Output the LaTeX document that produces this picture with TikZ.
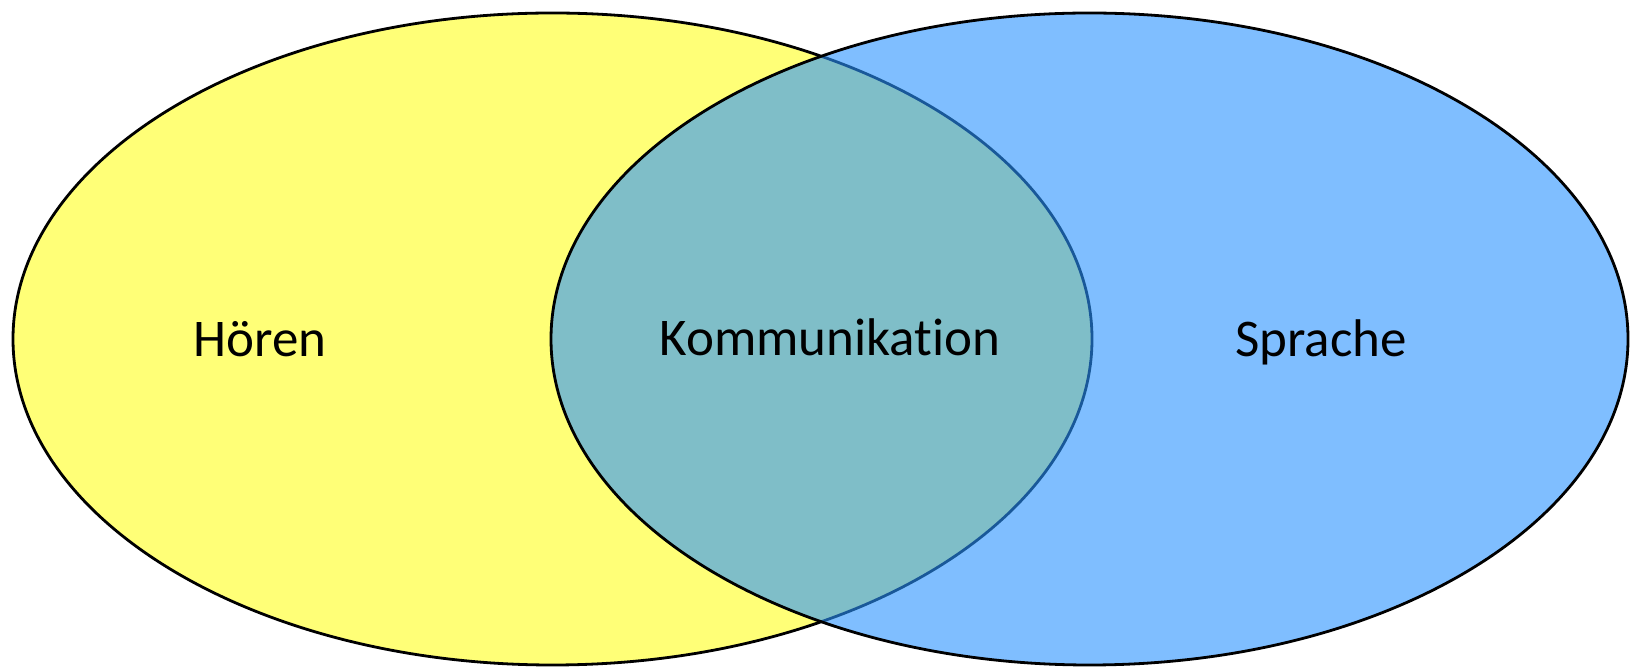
\documentclass[tikz,border=0pt]{standalone}
\usepackage{fontspec}
\setmainfont{Carlito}[Ligatures=NoCommon]
\definecolor{venyellow}{RGB}{255,255,119}
\definecolor{venblue}{RGB}{43,148,255}
\begin{document}
\begin{tikzpicture}[x=1pt,y=1pt,
  outline/.style={draw=black,line width=2.8pt},
  lbl/.style={anchor=base,inner sep=0pt,font=\fontsize{53}{60}\selectfont}]
\useasboundingbox[fill=white] (0,0) rectangle (1630,669);
% left set
\fill[venyellow] (552.5,330) ellipse [x radius=539.5,y radius=326];
\draw[outline] (552.5,330) ellipse [x radius=539.5,y radius=326];
% right set (translucent)
\fill[venblue,fill opacity=0.6] (1089.5,330) ellipse [x radius=538.5,y radius=326];
\draw[outline] (1089.5,330) ellipse [x radius=538.5,y radius=326];
\node[lbl] (hoeren) at (260,312) {Hören};
\node[lbl] (komm) at (830,313) {Kommunikation};
\node[lbl] (sprache) at (1321,312) {Sprache};
\end{tikzpicture}
\end{document}
